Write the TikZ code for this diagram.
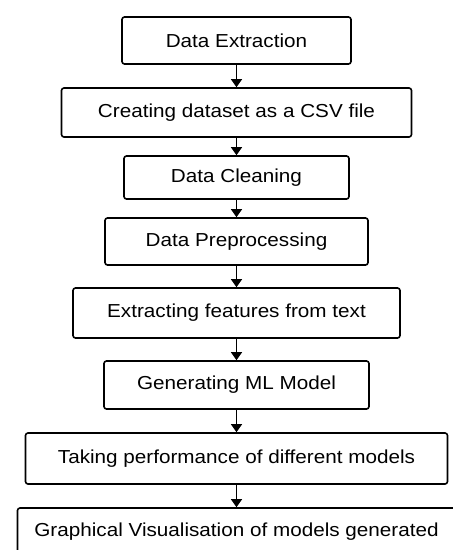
\documentclass[tikz,border=0pt]{standalone}
\usepackage{fontspec}
\setmainfont{Liberation Sans}[FakeStretch=1.1]
\usetikzlibrary{arrows.meta}
\begin{document}
\begin{tikzpicture}[x=1pt, y=-1pt,
        stepbox/.style={draw, line width=1.6pt, rounded corners=2.5pt, inner sep=0pt, font=\fontsize{18.8}{23}\selectfont},
        flow/.style={-{Triangle[width=11pt, length=8pt]}, line width=1.2pt}]
        \useasboundingbox (0,0) rectangle (453,550);
        \clip (0,0) rectangle (453,550);
        % pipeline steps, top to bottom
        \node[stepbox, minimum width=229pt, minimum height=47pt] (extract)  at (236.5, 40.5) {Data Extraction};
        \node[stepbox, minimum width=350pt, minimum height=49pt] (dataset)  at (236.5, 112.5) {Creating dataset as a CSV file};
        \node[stepbox, minimum width=225pt, minimum height=43pt] (cleaning) at (236.5, 177.5) {Data Cleaning};
        \node[stepbox, minimum width=263pt, minimum height=47pt] (preproc)  at (236.5, 241.5) {Data Preprocessing};
        \node[stepbox, minimum width=327pt, minimum height=50pt] (features) at (236.5, 313) {Extracting features from text};
        \node[stepbox, minimum width=265pt, minimum height=48pt] (mlmodel)  at (236.5, 385) {Generating ML Model};
        \node[stepbox, minimum width=422pt, minimum height=51pt] (perf)     at (236.5, 458.5) {Taking performance of different models};
        \node[stepbox, minimum width=438pt, minimum height=48pt] (visual)   at (236.5, 532) {Graphical Visualisation of models generated};
        % arrows between the steps
        \draw[flow] (extract.south)  -- (dataset.north);
        \draw[flow] (dataset.south)  -- (cleaning.north);
        \draw[flow] (cleaning.south) -- (preproc.north);
        \draw[flow] (preproc.south)  -- (features.north);
        \draw[flow] (features.south) -- (mlmodel.north);
        \draw[flow] (mlmodel.south)  -- (perf.north);
        \draw[flow] (perf.south)     -- (visual.north);
\end{tikzpicture}
\end{document}
